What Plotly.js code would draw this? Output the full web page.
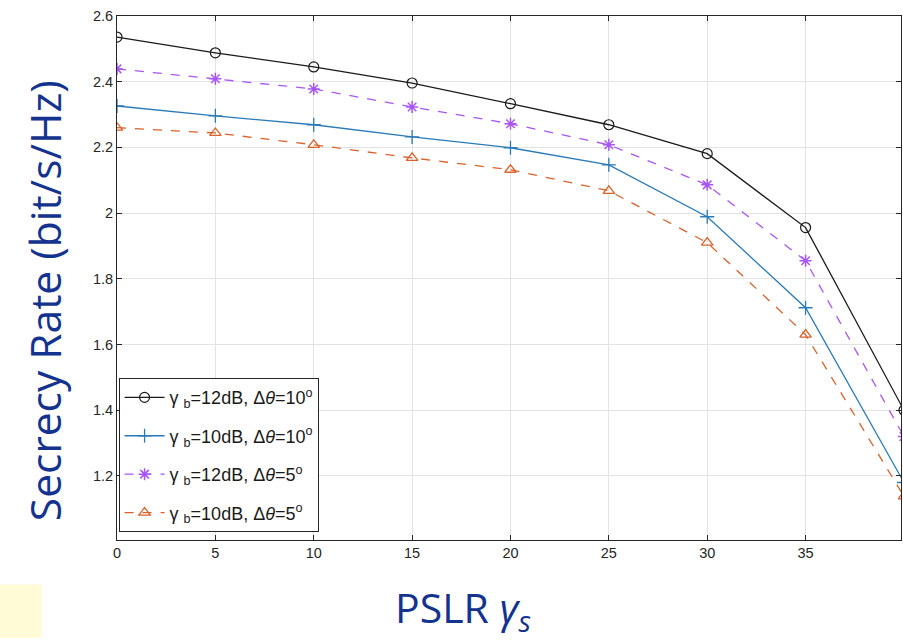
<!DOCTYPE html>
<html>
<head>
<meta charset="utf-8">
<script src="https://cdn.plot.ly/plotly-3.0.1.min.js"></script>
<style>html,body{margin:0;padding:0;background:#fff;}#chart{width:903px;height:640px;}</style>
</head>
<body>
<div id="chart"></div>
<script>
const pslr = [0, 5, 10, 15, 20, 25, 30, 35, 40];
const rate12dB10deg = [2.536, 2.488, 2.445, 2.396, 2.333, 2.269, 2.181, 1.956, 1.40];
const rate10dB10deg = [2.326, 2.296, 2.269, 2.232, 2.199, 2.147, 1.989, 1.712, 1.18];
const rate12dB5deg  = [2.439, 2.409, 2.378, 2.323, 2.272, 2.208, 2.086, 1.855, 1.32];
const rate10dB5deg  = [2.260, 2.244, 2.208, 2.168, 2.132, 2.068, 1.910, 1.630, 1.138];
const seriesNames = [
  'γ <sub>b</sub>=12dB, Δ<i>θ</i>=10<sup>o</sup>',
  'γ <sub>b</sub>=10dB, Δ<i>θ</i>=10<sup>o</sup>',
  'γ <sub>b</sub>=12dB, Δ<i>θ</i>=5<sup>o</sup>',
  'γ <sub>b</sub>=10dB, Δ<i>θ</i>=5<sup>o</sup>'
];
const yTicks = [1.2, 1.4, 1.6, 1.8, 2, 2.2, 2.4, 2.6];
const xTicks = [0, 5, 10, 15, 20, 25, 30, 35];
const xTitle = 'PSLR <i>γ<sub>s</sub></i>';
const yTitle = 'Secrecy Rate (bit/s/Hz)';

const traces = [
  {x: pslr, y: rate12dB10deg, name: seriesNames[0], legendgroup: 'a', mode: 'lines+markers',
   line: {color: '#1a1a1a', width: 1.3},
   marker: {symbol: 'circle-open', size: 10, color: '#1a1a1a', line: {width: 1.2}}},
  {x: pslr, y: rate10dB10deg, name: seriesNames[1], legendgroup: 'b', mode: 'lines+markers',
   line: {color: '#2a7ab8', width: 1.3},
   marker: {symbol: 'cross-thin-open', size: 10, color: '#2a7ab8', line: {width: 1.3, color: '#2a7ab8'}}},
  {x: pslr, y: rate12dB5deg, name: seriesNames[2], legendgroup: 'c', mode: 'lines+markers',
   line: {color: '#a855f7', width: 1.3, dash: 'dash'},
   marker: {symbol: 'asterisk-open', size: 10, color: '#a855f7', line: {width: 1.5, color: '#a855f7'}}},
  {x: pslr, y: rate10dB5deg, name: seriesNames[3], legendgroup: 'd', mode: 'lines+markers',
   line: {color: '#d9622b', width: 1.3, dash: 'dash'},
   marker: {symbol: 'triangle-up-open', size: 10, color: '#d9622b', line: {width: 1.3}}}
];

const axisCommon = {
  showline: true, linecolor: '#262626', linewidth: 1, mirror: 'ticks',
  ticks: 'inside', ticklen: 5, tickcolor: '#262626',
  showgrid: true, gridcolor: '#e3e3e3', gridwidth: 1, zeroline: false,
  tickfont: {family: 'Liberation Sans, Arial, sans-serif', size: 14.5, color: '#262626'}
};

const titleFont = {family: 'Open Sans, Noto Sans, sans-serif', color: '#14338f'};

const layout = {
  width: 903, height: 640,
  margin: {l: 117, r: 2, t: 16, b: 100},
  paper_bgcolor: '#ffffff', plot_bgcolor: '#ffffff',
  showlegend: true,
  xaxis: Object.assign({}, axisCommon, {
    range: [0, 39.85], tickvals: xTicks, ticktext: xTicks.map(String)
  }),
  yaxis: Object.assign({}, axisCommon, {
    range: [1.005, 2.6], tickvals: yTicks, ticktext: yTicks.map(String)
  }),
  legend: {
    x: 0.002, y: 0.015, xanchor: 'left', yanchor: 'bottom',
    traceorder: 'grouped', tracegroupgap: 12, itemwidth: 40,
    bgcolor: '#ffffff', bordercolor: '#262626', borderwidth: 1,
    font: {family: 'Liberation Sans, Arial, sans-serif', size: 18, color: '#1a1a1a'}
  },
  annotations: [
    {text: xTitle, xref: 'paper', yref: 'paper', x: 0.441, y: -0.132,
     xanchor: 'center', yanchor: 'middle', showarrow: false,
     font: Object.assign({size: 41}, titleFont)},
    {text: yTitle, xref: 'paper', yref: 'paper', x: -0.093, y: 0.456, textangle: -90,
     xanchor: 'center', yanchor: 'middle', showarrow: false,
     font: Object.assign({size: 42.5}, titleFont)}
  ],
  shapes: [
    {type: 'rect', xref: 'paper', yref: 'paper', x0: -0.1496, x1: -0.096, y0: -0.187, y1: -0.085,
     fillcolor: '#fffbd6', line: {width: 0}, layer: 'below'}
  ]
};

Plotly.newPlot('chart', traces, layout, {displayModeBar: false, staticPlot: true});
</script>
</body>
</html>
